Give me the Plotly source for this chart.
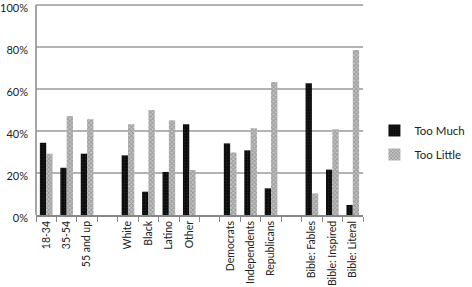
import plotly.graph_objects as go

categories = ["18-34", "35-54", "55 and up", " ",
              "White", "Black", "Latino", "Other", "  ",
              "Democrats", "Independents", "Republicans", "   ",
              "Bible: Fables", "Bible: Inspired", "Bible: Literal"]
too_much = [34.4, 22.5, 29.2, None, 28.4, 11.1, 20.5, 43.2, None,
            34.1, 30.8, 12.7, None, 62.7, 21.6, 4.8]
too_little = [29.2, 47.1, 45.6, None, 43.2, 50.0, 45.1, 21.4, None,
              29.8, 41.3, 63.3, None, 10.3, 40.8, 78.6]
y_ticks = [0, 20, 40, 60, 80, 100]

font_family = "Lato, 'Open Sans', sans-serif"

fig = go.Figure()
fig.add_trace(go.Bar(
    x=categories, y=[v / 100 if v is not None else None for v in too_much],
    name="Too Much", legendgroup="a",
    marker=dict(color="#111111", line=dict(width=0),
                pattern=dict(shape=".", fgcolor="#333333", bgcolor="#0a0a0a", size=3, solidity=0.3)),
))
fig.add_trace(go.Bar(
    x=categories, y=[v / 100 if v is not None else None for v in too_little],
    name="Too Little", legendgroup="b",
    marker=dict(color="#ffffff", line=dict(width=0),
                pattern=dict(shape="x", fgcolor="#6a6a6a", bgcolor="#c4c4c4", size=3, solidity=0.5)),
))

fig.update_layout(
    width=472, height=287,
    margin=dict(l=36, r=77, t=2, b=72),
    paper_bgcolor="white", plot_bgcolor="white",
    barmode="group", bargap=0.38, bargroupgap=0,
    font=dict(family=font_family, size=11, color="#222222"),
    showlegend=True,
    legend=dict(x=1.035, y=0.34, xanchor="left", yanchor="middle",
                font=dict(size=11.5, color="#222222"), itemwidth=30,
                tracegroupgap=5, bgcolor="rgba(0,0,0,0)"),
)
fig.update_xaxes(
    type="category", categoryorder="array", categoryarray=categories,
    tickangle=-90, tickson="boundaries", ticks="outside", ticklen=5,
    tickcolor="#888888", showline=True, linecolor="#888888", linewidth=1.5,
    showgrid=False, tickfont=dict(size=10.5), automargin=False,
)
fig.update_yaxes(
    range=[0, 213 / 210], tickvals=[t / 100 for t in y_ticks],
    ticktext=[f"{t}%" for t in y_ticks],
    showgrid=True, gridcolor="#b3b3b3", gridwidth=1.5,
    showline=False, ticklabelstandoff=7, ticklabelshift=3,
    ticks="", ticklabeloverflow="allow",
    zeroline=False, tickfont=dict(size=11), automargin=False,
)
# y-axis line from 0% to 100% only, as in the reference
fig.add_shape(type="line", xref="paper", yref="y", x0=0, x1=0, y0=0, y1=1,
              line=dict(color="#888888", width=1.5))

fig.write_html("out.html", config={"displayModeBar": False},
               post_script="document.body.style.margin='0';")
